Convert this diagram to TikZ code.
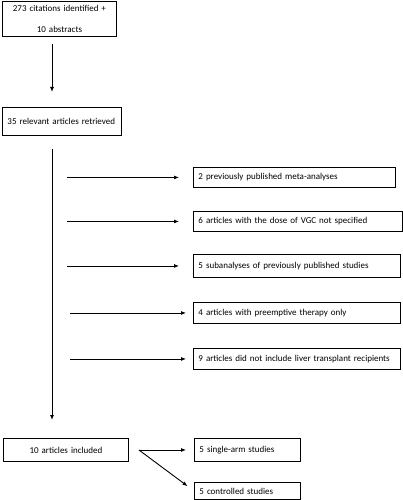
\documentclass[tikz,border=0pt]{standalone}
\usepackage{fontspec}
\setmainfont{Carlito}
\usetikzlibrary{arrows.meta}

\begin{document}
\begin{tikzpicture}[x=1pt,y=-1pt,
		box/.style 2 args={draw,line width=.9pt,anchor=north west,inner xsep=5pt,inner ysep=0pt,text width=#1,minimum height=#2,font=\fontsize{9}{11}\selectfont},
		arr/.style={line width=.9pt,-{Latex[length=5pt,width=4pt]}}]
			\useasboundingbox (0,0) rectangle (403,500);
			\node[box={104pt}{35pt},align=center,font=\fontsize{9}{21}\selectfont] (C) at (2,1) {273 citations identified +\\10 abstracts};
			\node[box={109pt}{28pt},align=left] (R) at (2,107) {35 relevant articles retrieved};
			\node[box={192pt}{20pt},align=left] (E1) at (193,167) {2 previously published meta-analyses};
			\node[box={199pt}{20pt},align=left] (E2) at (193,211) {6 articles with the dose of VGC not specified};
			\node[box={197pt}{23pt},align=left] (E3) at (193,254) {5 subanalyses of previously published studies};
			\node[box={197pt}{21pt},align=left] (E4) at (193,302) {4 articles with preemptive therapy only};
			\node[box={197pt}{21pt},align=left] (E5) at (193,348) {9 articles did not include liver transplant recipients};
			\node[box={115pt}{23pt},align=center] (I) at (3,438) {10 articles included};
			\node[box={96pt}{23pt},align=left] (S) at (194,438) {5 single-arm studies};
			\node[box={96pt}{17pt},align=left] (K) at (194,482) {5 controlled studies};
			\coordinate (T) at (52,0);
			\coordinate (F) at ([xshift=10pt]I.east);
			\draw[arr,shorten <=7pt,shorten >=15pt] (C.south -| T) -- (R.north -| T);
			\draw[arr,shorten <=13pt,shorten >=18pt] (R.south -| T) -- (I.north -| T);
			\draw[arr,shorten <=15pt,shorten >=14pt] (T |- E1.west) -- (E1.west);
			\draw[arr,shorten <=15pt,shorten >=14pt] (T |- E2.west) -- (E2.west);
			\draw[arr,shorten <=15pt,shorten >=14pt] (T |- E3.west) -- (E3.west);
			\draw[arr,shorten <=18pt,shorten >=7pt] (T |- E4.west) -- (E4.west);
			\draw[arr,shorten <=18pt,shorten >=7pt] (T |- E5.west) -- (E5.west);
			\draw[arr,shorten >=8pt] (F) -- (S.west);
			\draw[arr,shorten >=8pt] (F) -- (K.west);
		\end{tikzpicture}
\end{document}
